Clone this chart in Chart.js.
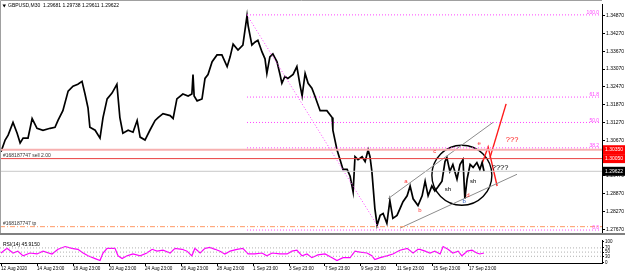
<!DOCTYPE html>
<html>
<head>
<meta charset="utf-8">
<script src="https://cdn.jsdelivr.net/npm/chart.js@4.4.1/dist/chart.umd.min.js"></script>
<style>
  body { margin: 0; background: #fff; width: 625px; height: 274px; overflow: hidden; position: relative; }
  #main { position: absolute; left: 0; top: 0; }
  #rsi { position: absolute; left: 0; top: 237px; }
</style>
</head>
<body>
<canvas id="main" width="625" height="237"></canvas>
<canvas id="rsi" width="625" height="37"></canvas>
<script>
// time axis: M30 bar index from chart start
const timeTicks = [0, 96, 192, 288, 384, 480, 576, 672, 768, 864, 960, 1056, 1152, 1248];
const timeLabels = ['12 Aug 2020', '14 Aug 23:00', '18 Aug 23:00', '20 Aug 23:00', '24 Aug 23:00',
  '26 Aug 23:00', '28 Aug 23:00', '1 Sep 23:00', '3 Sep 23:00', '7 Sep 23:00', '9 Sep 23:00',
  '11 Sep 23:00', '15 Sep 23:00', '17 Sep 23:00'];

const priceTicks = [1.34870, 1.34270, 1.33670, 1.33070, 1.32470, 1.31870, 1.31270, 1.30670,
  1.30070, 1.29470, 1.28870, 1.28270, 1.27670];
const priceTickLabels = ['1.34870', '1.34270', '1.33670', '1.33070', '1.32470', '1.31870', '1.31270',
  '1.30670', '1.30070', '1.29470', '1.28870', '1.28270', '1.27670'];

const priceBars = [0, 11, 19, 32, 43, 51, 59, 72, 83, 96, 112, 131, 144, 152, 165, 179, 192, 205, 216, 224,
  232, 237, 251, 264, 272, 283, 296, 309, 317, 325, 339, 352, 363, 371, 384, 397, 411, 419, 432, 451,
  459, 469, 485, 499, 509, 512, 515, 523, 536, 544, 552, 563, 576, 589, 603, 611, 619, 632, 645, 656,
  659, 664, 669, 677, 685, 696, 704, 709, 717, 725, 736, 744, 749, 757, 765, 779, 789, 797, 803, 811,
  819, 829, 837, 851, 869, 883, 885, 896, 904, 912, 923, 931, 939, 944, 952, 963, 971, 979, 984, 989,
  997, 1003, 1011, 1019, 1029, 1037, 1045, 1056, 1064, 1072, 1083, 1091, 1099, 1112, 1123, 1131, 1139, 1149, 1157, 1165,
  1176, 1184, 1189, 1197, 1205, 1216, 1224, 1232, 1237, 1243, 1251, 1259, 1269, 1277, 1283, 1288];
const priceClose = [1.30280, 1.30677, 1.30842, 1.31271, 1.30908, 1.30578, 1.30743, 1.30743, 1.31403, 1.31073,
  1.31007, 1.31073, 1.31106, 1.31337, 1.31667, 1.32328, 1.32493, 1.32559, 1.32658, 1.32229,
  1.31766, 1.31106, 1.31007, 1.30743, 1.31436, 1.32064, 1.32262, 1.32559, 1.31436, 1.30908,
  1.31007, 1.30941, 1.31337, 1.30776, 1.30677, 1.31007, 1.31337, 1.31436, 1.31568, 1.31502,
  1.31403, 1.32064, 1.32229, 1.32163, 1.32229, 1.32889, 1.32163, 1.31998, 1.32064, 1.32757,
  1.32889, 1.33319, 1.33550, 1.33550, 1.33153, 1.33484, 1.33913, 1.33715, 1.33880, 1.34871,
  1.34540, 1.34210, 1.33880, 1.33979, 1.34045, 1.33649, 1.33418, 1.32922, 1.33484, 1.33583,
  1.33319, 1.32889, 1.32592, 1.32823, 1.32757, 1.32889, 1.33153, 1.32559, 1.32163, 1.32922,
  1.32592, 1.32427, 1.32163, 1.31667, 1.31667, 1.31436, 1.31007, 1.30346, 1.30016, 1.29686,
  1.29686, 1.29455, 1.28926, 1.30115, 1.30016, 1.30115, 1.29950, 1.30346, 1.30115, 1.29620,
  1.28365, 1.27803, 1.28134, 1.28200, 1.27869, 1.28629, 1.28035, 1.28134, 1.28365, 1.28596,
  1.28794, 1.29125, 1.28695, 1.28464, 1.28794, 1.29290, 1.28794, 1.29125, 1.28959, 1.29092,
  1.29290, 1.29950, 1.30082, 1.29620, 1.29851, 1.29356, 1.29851, 1.30016, 1.28695, 1.29356,
  1.29851, 1.29752, 1.29917, 1.29686, 1.29917, 1.29622];

const rsiBars = [0, 16, 32, 45, 59, 77, 96, 112, 136, 152, 171, 189, 205, 219, 232, 251, 264, 272, 283, 304,
  312, 323, 336, 352, 371, 389, 403, 416, 432, 451, 464, 483, 496, 509, 517, 531, 544, 557, 571, 584,
  597, 611, 629, 645, 659, 677, 696, 709, 723, 744, 763, 776, 789, 803, 816, 829, 845, 864, 883, 896,
  912, 931, 944, 957, 976, 989, 997, 1011, 1029, 1045, 1064, 1083, 1099, 1112, 1117, 1131, 1144, 1157, 1171, 1179,
  1192, 1205, 1219, 1229, 1243, 1256, 1269, 1277, 1288];
const rsiValues = [45.6, 67.8, 45.6, 54.4, 32.2, 45.6, 41.1, 54.4, 41.1, 63.3, 76.6, 67.8, 63.3, 45.6, 32.2, 18.9,
  10.0, 45.6, 67.8, 67.8, 32.2, 18.9, 32.2, 41.1, 32.2, 45.6, 63.3, 54.4, 58.9, 45.6, 67.8, 63.3, 54.4,
  32.2, 67.8, 45.6, 67.8, 72.2, 63.3, 54.4, 41.1, 54.4, 63.3, 67.8, 41.1, 41.1, 45.6, 32.2, 45.6, 41.1,
  41.1, 54.4, 58.9, 32.2, 41.1, 23.4, 36.7, 41.1, 23.4, 10.0, 23.4, 23.4, 54.4, 50.0, 45.6, 32.2, 14.5,
  23.4, 32.2, 41.1, 58.9, 67.8, 45.6, 63.3, 63.3, 54.4, 45.6, 54.4, 41.1, 76.6, 63.3, 45.6, 54.4, 32.2,
  54.4, 58.9, 45.6, 41.1, 45.9];
const rsiLevels = [30, 50, 70];
const rsiTicks = [0, 30, 50, 70, 100];

// fibonacci retracement (peak 1 Sep -> low 10 Sep)
const fibStartBar = 656, fibEndBar = 1011, fibRightBar = 1595;
const fibHigh = 1.34900, fibLow = 1.27640;
const fibRatios = [100.0, 61.8, 50.0, 38.2, 0.0];

// order / price lines
const sellPrice = 1.30050, alertPrice = 1.30350, bidPrice = 1.29622, tpPrice = 1.27754;

// hand drawn objects
const channelUpper = [{ x: 1032, y: 1.28695 }, { x: 1312, y: 1.31271 }];
const channelLower = [{ x: 1064, y: 1.27704 }, { x: 1376, y: 1.29521 }];
const redPathA = [{ x: 1283, y: 1.29884 }, { x: 1299, y: 1.30445 }, { x: 1323, y: 1.29125 }];
const redPathB = [{ x: 1304, y: 1.30082 }, { x: 1347, y: 1.31898 }];
const circleCenter = { x: 1229, y: 1.29488 };

const marks = [
  { text: 'a', x: 1080, y: 1.29290, color: '#ff3030' },
  { text: 'b', x: 1117, y: 1.28299, color: '#ff3030' },
  { text: 'c', x: 1157, y: 1.30280, color: '#ff3030' },
  { text: 'd', x: 1245, y: 1.28827, color: '#ff3030' },
  { text: 'e', x: 1275, y: 1.30577, color: '#ff3030' },
  { text: 'b', x: 1235, y: 1.28596, color: '#3060c0' },
  { text: 'sh', x: 1192, y: 1.29025, color: '#000' },
  { text: 'sh', x: 1259, y: 1.29290, color: '#000' },
  { text: '???', x: 1363, y: 1.30677, color: '#ff1010' },
  { text: '????', x: 1331, y: 1.29752, color: '#000' }
];

const xMin = -2.7, xMax = 1602.7;
const FONT = '"Liberation Sans", Arial, sans-serif';

const pts = (xs, ys) => xs.map((x, i) => ({ x: x, y: ys[i] }));
const flat = (v, a, b) => [{ x: a, y: v }, { x: b, y: v }];
const lineDs = (data, color, width, dash) => ({
  type: 'line', data: data, borderColor: color, borderWidth: width, borderDash: dash || [],
  pointRadius: 0, tension: 0, fill: false
});

const fibLevel = r => fibLow + (fibHigh - fibLow) * r / 100;

const datasets = [
  lineDs(flat(alertPrice, xMin, xMax), '#f7b0b0', 2),
  lineDs(flat(sellPrice, xMin, xMax), '#e84040', 1),
  lineDs(flat(bidPrice, xMin, xMax), '#c8c8c8', 1),
  lineDs(flat(tpPrice, xMin, xMax), '#ff9966', 1, [5, 2, 1, 2]),
  lineDs([{ x: fibStartBar, y: fibHigh }, { x: fibEndBar, y: fibLow }], '#ff44ff', 1, [1, 2])
];
fibRatios.forEach(r => datasets.push(lineDs(flat(fibLevel(r), fibStartBar, fibRightBar), '#ff44ff', 1, [1, 2])));
datasets.push(lineDs(channelUpper, '#8c8c8c', 1));
datasets.push(lineDs(channelLower, '#8c8c8c', 1));
datasets.push(lineDs(pts(priceBars, priceClose), '#000', 1.7));
datasets.push(lineDs(redPathA, '#ff1a1a', 1.4));
datasets.push(lineDs(redPathB, '#ff1a1a', 1.4));
datasets.push({
  type: 'bubble', data: [circleCenter], radius: 30, borderColor: '#000', borderWidth: 1.4,
  backgroundColor: 'rgba(0,0,0,0)'
});

const mainOverlay = {
  id: 'mainOverlay',
  afterDatasetsDraw(chart) {
    const { ctx, chartArea, scales: { x, y } } = chart;
    ctx.save();
    ctx.textBaseline = 'bottom';
    ctx.textAlign = 'right';
    ctx.fillStyle = '#ff44ff';
    ctx.font = '5px ' + FONT;
    fibRatios.forEach(r => ctx.fillText(r.toFixed(1), x.getPixelForValue(fibRightBar), y.getPixelForValue(fibLevel(r)) + 0.5));

    ctx.textAlign = 'left';
    ctx.fillStyle = '#333';
    ctx.fillText('#168187747 sell 2.00', 3, y.getPixelForValue(sellPrice) - 0.5);
    ctx.fillText('#168187747 tp', 3, y.getPixelForValue(tpPrice) - 0.5);

    ctx.textBaseline = 'middle';
    ctx.textAlign = 'center';
    marks.forEach(m => {
      ctx.fillStyle = m.color;
      ctx.font = (m.text.length > 2 ? '7.5px ' : '6px ') + FONT;
      ctx.fillText(m.text, x.getPixelForValue(m.x), y.getPixelForValue(m.y));
    });

    // title
    ctx.textAlign = 'left';
    ctx.fillStyle = '#000';
    ctx.font = '5px ' + FONT;
    ctx.fillText('GBPUSD,M30  1.29681 1.29738 1.29611 1.29622', 8, 6);
    ctx.beginPath();
    ctx.moveTo(2.5, 4.5); ctx.lineTo(6, 4.5); ctx.lineTo(4.25, 7.5); ctx.closePath();
    ctx.fill();

    // window frame
    ctx.strokeStyle = '#a0a0a0';
    ctx.lineWidth = 1;
    ctx.beginPath();
    ctx.moveTo(0.5, chartArea.bottom); ctx.lineTo(0.5, 0.5); ctx.lineTo(chartArea.right, 0.5);
    ctx.stroke();
    ctx.fillStyle = '#808080';
    ctx.fillRect(0, chartArea.bottom, 625, 2);
    ctx.restore();
  },
  afterDraw(chart) {
    const { ctx, scales: { y } } = chart;
    ctx.save();
    ctx.font = '5px ' + FONT;
    ctx.textBaseline = 'middle';
    ctx.textAlign = 'left';
    [[alertPrice, '#ff0000'], [sellPrice, '#ff0000'], [bidPrice, '#000']].forEach(([v, c]) => {
      const py = y.getPixelForValue(v);
      ctx.fillStyle = c;
      ctx.fillRect(603, py - 4.5, 22, 9);
      ctx.fillStyle = '#fff';
      ctx.fillText(v.toFixed(5), 605, py);
    });
    ctx.restore();
  }
};

new Chart(document.getElementById('main'), {
  type: 'line',
  data: { datasets: datasets },
  options: {
    responsive: false, animation: false, devicePixelRatio: 1,
    layout: { autoPadding: false, padding: { top: 1, bottom: 0, left: 0, right: 0 } },
    plugins: { legend: { display: false }, tooltip: { enabled: false } },
    scales: {
      x: { type: 'linear', min: xMin, max: xMax, display: false },
      y: {
        position: 'right', min: 1.27540, max: 1.35267,
        afterBuildTicks: s => { s.ticks = priceTicks.map(v => ({ value: v })); },
        afterFit: s => { s.width = 23; },
        ticks: {
          autoSkip: false, padding: 1, color: '#000',
          font: { family: FONT, size: 5 },
          callback: (v, i) => priceTickLabels[i]
        },
        grid: { drawOnChartArea: false, tickLength: 3, color: '#000' },
        border: { color: '#000' }
      }
    }
  },
  plugins: [mainOverlay]
});

const rsiOverlay = {
  id: 'rsiOverlay',
  afterDatasetsDraw(chart) {
    const { ctx, chartArea } = chart;
    ctx.save();
    ctx.font = '5px ' + FONT;
    ctx.fillStyle = '#000';
    ctx.textBaseline = 'middle';
    ctx.fillText('RSI(14) 45.9150', 3, chartArea.top + 4);
    ctx.strokeStyle = '#000';
    ctx.beginPath();
    ctx.moveTo(0, chartArea.bottom + 0.5); ctx.lineTo(chartArea.right, chartArea.bottom + 0.5);
    ctx.stroke();
    ctx.restore();
  }
};

const rsiDatasets = rsiLevels.map(v => lineDs(flat(v, xMin, xMax), '#b0b0b0', 1, [1, 2]));
rsiDatasets.push(lineDs(pts(rsiBars, rsiValues), '#ff00ff', 1.2));

new Chart(document.getElementById('rsi'), {
  type: 'line',
  data: { datasets: rsiDatasets },
  options: {
    responsive: false, animation: false, devicePixelRatio: 1,
    layout: { autoPadding: false, padding: { top: 2, bottom: 0, left: 0, right: 0 } },
    plugins: { legend: { display: false }, tooltip: { enabled: false } },
    scales: {
      x: {
        type: 'linear', min: xMin, max: xMax,
        afterBuildTicks: s => { s.ticks = timeTicks.map(v => ({ value: v })); },
        afterFit: s => { s.height = 11; },
        ticks: {
          autoSkip: false, maxRotation: 0, align: 'start', padding: 0, color: '#000',
          font: { family: FONT, size: 4.6 },
          callback: (v, i) => timeLabels[i]
        },
        grid: { drawOnChartArea: false, tickLength: 3, color: '#000' },
        border: { color: '#000' }
      },
      y: {
        position: 'right', min: -2, max: 104.4,
        afterBuildTicks: s => { s.ticks = rsiTicks.map(v => ({ value: v })); },
        afterFit: s => { s.width = 23; },
        ticks: { autoSkip: false, padding: 1, color: '#000', font: { family: FONT, size: 4.5 } },
        grid: { drawOnChartArea: false, tickLength: 2, color: '#000' },
        border: { color: '#000' }
      }
    }
  },
  plugins: [rsiOverlay]
});
</script>
</body>
</html>
